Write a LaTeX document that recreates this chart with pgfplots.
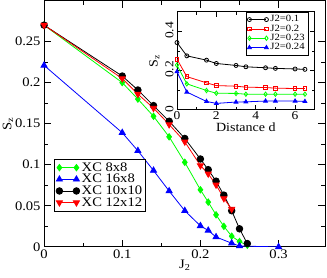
\documentclass[border=0pt]{standalone}
\usepackage{fontspec}
\setmainfont{Liberation Serif}[FakeStretch=1.12]
\usepackage{pgfplots}
\pgfplotsset{compat=1.18}
\usetikzlibrary{calc}
\definecolor{xgreen}{RGB}{0,255,0}
\definecolor{xblue}{RGB}{0,0,255}
\definecolor{xred}{RGB}{255,0,0}
\begin{document}
\begin{tikzpicture}
\begin{axis}[name=main,
  scale only axis, width=281pt, height=246pt,
  xmin=0, xmax=0.36, ymin=0, ymax=0.3,
  xtick={0,0.1,0.2,0.3}, xticklabels={0,0.1,0.2,0.3},
  ytick={0,0.05,0.1,0.15,0.2,0.25}, yticklabels={0,0.05,0.1,0.15,0.2,0.25},
  minor x tick num=1, minor y tick num=1,
  tick align=inside, major tick length=7pt, minor tick length=4pt,
  every tick/.style={black, line width=0.8pt},
  axis line style={line width=0.9pt},
  /pgf/number format/assume math mode=true,
  tick label style={font=\fontsize{13}{15}\selectfont},
  xticklabel style={yshift=1pt},
  label style={font=\fontsize{13}{15}\selectfont},
  xlabel={J\textsubscript{2}}, ylabel={S\textsubscript{z}},
  xlabel style={yshift=5pt}, ylabel style={yshift=-5pt},
  legend style={at={(0.036,0.358)}, anchor=north west, draw=black, line width=0.8pt,
    font=\fontsize{13}{13.5}\selectfont, row sep=-2.5pt, inner sep=1.5pt,
    cells={anchor=west}},
  legend image code/.code={\draw[mark repeat=2,mark phase=1,#1] plot coordinates {(0pt,0pt) (8.5pt,0pt) (17pt,0pt)};},
]
\addplot[xgreen, line width=0.8pt, mark=diamond*, mark size=3.2pt, mark options={fill=xgreen}] coordinates {
(0,0.270)(0.1,0.200)(0.12,0.180)(0.14,0.159)(0.16,0.134)(0.18,0.103)(0.2,0.0695)(0.21,0.0545)(0.22,0.039)(0.23,0.025)(0.24,0.013)(0.25,0.0065)(0.26,0.002)};
\addlegendentry{XC 8x8}
\addplot[xblue, line width=0.8pt, mark=triangle*, mark size=3.5pt, mark options={fill=xblue}] coordinates {
(0,0.221)(0.1,0.139)(0.12,0.117)(0.14,0.093)(0.16,0.068)(0.18,0.044)(0.2,0.0256)(0.21,0.020)(0.22,0.012)(0.24,0.0045)(0.25,0.001)(0.3,0)};
\addlegendentry{XC 16x8}
\addplot[black, line width=0.8pt, mark=*, mark size=3.3pt, mark options={fill=black}] coordinates {
(0,0.270)(0.1,0.208)(0.12,0.191)(0.14,0.172)(0.16,0.153)(0.18,0.132)(0.2,0.107)(0.21,0.094)(0.22,0.080)(0.23,0.063)(0.24,0.044)(0.25,0.022)(0.26,0.004)};
\addlegendentry{XC 10x10}
\addplot[xred, line width=0.8pt, mark=triangle*, mark size=3.5pt, mark options={fill=xred, rotate=180}] coordinates {
(0,0.270)(0.1,0.205)(0.12,0.186)(0.14,0.169)(0.16,0.149)(0.18,0.128)(0.2,0.099)(0.21,0.089)(0.22,0.0756)(0.23,0.059)(0.24,0.046)};
\addlegendentry{XC 12x12}
\end{axis}
\begin{axis}[at={($(main.north west)+(132.7pt,-11.3pt)$)}, anchor=north west,
  scale only axis, width=137.6pt, height=97.7pt,
  axis background/.style={fill=white},
  xmin=0, xmax=7, ymin=0, ymax=0.5,
  xtick={0,2,4,6}, xticklabels={0,2,4,6},
  ytick={0,0.2,0.4}, yticklabels={0,0.2,0.4},
  minor x tick num=1, minor y tick num=1,
  tick align=inside, major tick length=5pt, minor tick length=3pt,
  every tick/.style={black, line width=0.7pt},
  axis line style={line width=0.8pt},
  tick label style={font=\fontsize{12}{14}\selectfont},
  xticklabel style={yshift=1.5pt},
  yticklabel style={rotate=90, anchor=south, xshift=1pt},
  label style={font=\fontsize{12.5}{14}\selectfont},
  xlabel={Distance d}, ylabel={S\textsubscript{z}},
  xlabel style={yshift=4pt}, ylabel style={yshift=-1pt},
  legend style={at={(0.954,1)}, anchor=north east, draw=black, line width=0.7pt,
    font=\fontsize{9.5}{10}\selectfont, row sep=-2.5pt, inner sep=1.5pt,
    cells={anchor=west}},
  legend image code/.code={\draw[mark repeat=2,mark phase=1,#1] plot coordinates {(0pt,0pt) (8.5pt,0pt) (17pt,0pt)};},
]
\addplot[black, line width=0.8pt, mark=o, mark size=2pt] coordinates {
(0,0.343)(0.5,0.275)(1.5,0.253)(2,0.236)(3,0.226)(3.5,0.219)(4.5,0.214)(5,0.211)(6,0.208)(6.5,0.206)};
\addlegendentry{J2=0.1}
\addplot[xred, line width=0.8pt, mark=square, mark size=1.8pt] coordinates {
(0,0.258)(0.5,0.169)(1.5,0.137)(2,0.123)(3,0.120)(3.5,0.115)(4.5,0.113)(5,0.110)(6,0.108)(6.5,0.108)};
\addlegendentry{J2=0.2}
\addplot[xgreen, line width=0.8pt, mark=diamond, mark size=2.2pt] coordinates {
(0,0.228)(0.5,0.132)(1.5,0.098)(2,0.084)(3,0.083)(3.5,0.079)(4.5,0.079)(5,0.079)(6,0.079)(6.5,0.079)};
\addlegendentry{J2=0.23}
\addplot[xblue, line width=0.8pt, mark=triangle*, mark size=2.2pt, mark options={fill=xblue}] coordinates {
(0,0.194)(0.5,0.090)(1.5,0.042)(2,0.032)(3,0.039)(3.5,0.040)(4.5,0.044)(5,0.044)(6,0.044)(6.5,0.042)};
\addlegendentry{J2=0.24}
\end{axis}
\pgfresetboundingbox
\path ($(main.south west)+(-44pt,-31pt)$) rectangle ($(main.north east)+(1.5pt,0.5pt)$);
\end{tikzpicture}
\end{document}
